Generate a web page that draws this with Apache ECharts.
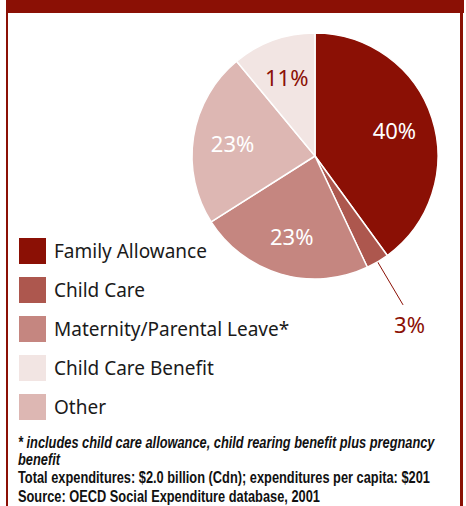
<!DOCTYPE html>
<html>
<head>
<meta charset="utf-8">
<script src="https://cdn.jsdelivr.net/npm/echarts@6/dist/echarts.min.js"></script>
<style>
  html, body { margin: 0; padding: 0; background: #fff; }
  #main { width: 466px; height: 506px; }
</style>
</head>
<body>
<div id="main"></div>
<script>
// slices, clockwise from 12 o'clock
var categories = ['Family Allowance', 'Child Care', 'Maternity/Parental Leave*', 'Other', 'Child Care Benefit'];
var values = [40, 3, 23, 23, 11];
// legend order as printed
var legendOrder = ['Family Allowance', 'Child Care', 'Maternity/Parental Leave*', 'Child Care Benefit', 'Other'];
var footLines = [
  '* includes child care allowance, child rearing benefit plus pregnancy',
  'benefit',
  'Total expenditures: $2.0 billion (Cdn); expenditures per capita: $201',
  'Source: OECD Social Expenditure database, 2001'
];

var palette = ['#8b1005', '#ad574e', '#c58680', '#ddb7b3', '#f2e5e3'];
var labelColors = ['#ffffff', '#8b1005', '#ffffff', '#ffffff', '#8b1005'];
var RED = '#8b1005';
var legendFont = '"Noto Sans", "Open Sans", sans-serif';
var footFont = '"Liberation Sans", Arial, sans-serif';

// footer is a condensed face in the original: squeeze a regular bold face to fit
var ctx = document.createElement('canvas').getContext('2d');
ctx.font = 'bold 17px ' + footFont;
var footScale = 412 / ctx.measureText(footLines[2]).width;

var chart = echarts.init(document.getElementById('main'), null, { renderer: 'svg' });

var mainData = categories.map(function (name, i) {
  var isSmall = values[i] < 5;
  return {
    name: name,
    value: values[i],
    itemStyle: { color: palette[i] },
    label: { show: isSmall },
    labelLine: { show: isSmall }
  };
});

// transparent copy only used to place the inside labels a bit further out
var labelData = categories.map(function (name, i) {
  return {
    name: name,
    value: values[i],
    label: { show: values[i] >= 5, color: labelColors[i] }
  };
});

var footGraphics = footLines.map(function (t, i) {
  var ys = [442, 459, 477, 496];
  return {
    type: 'text',
    x: 18,
    y: ys[i],
    scaleX: footScale,
    style: {
      text: t,
      fill: '#111',
      font: (i < 2 ? 'italic ' : '') + 'bold 17px ' + footFont,
      verticalAlign: 'middle'
    }
  };
});

var option = {
  backgroundColor: '#fff',
  animation: false,
  legend: {
    data: legendOrder,
    orient: 'vertical',
    left: 17,
    top: 236,
    padding: 0,
    icon: 'rect',
    itemWidth: 29,
    itemHeight: 28,
    itemGap: 9,
    selectedMode: false,
    textStyle: { fontSize: 19, lineHeight: 22, color: '#1a1a1a', fontFamily: legendFont, padding: [0, 0, 0, 2] }
  },
  graphic: [
    { type: 'rect', shape: { x: 6, y: 0, width: 458, height: 13 }, style: { fill: RED } },
    { type: 'rect', shape: { x: 6, y: 13, width: 2, height: 493 }, style: { fill: RED } },
    { type: 'rect', shape: { x: 460, y: 13, width: 3, height: 493 }, style: { fill: RED } },
    {
      type: 'text', x: 18, y: 2,
      style: { text: '2001', fill: '#fff', font: 'bold 18px ' + legendFont, verticalAlign: 'bottom' }
    }
  ].concat(footGraphics),
  series: [
    {
      name: 'Expenditures',
      type: 'pie',
      center: [315, 156],
      radius: 123,
      startAngle: 90,
      clockwise: true,
      itemStyle: { borderColor: '#fff', borderWidth: 1.5 },
      label: {
        position: 'outside',
        formatter: '{c}%',
        color: RED,
        fontSize: 22,
        fontFamily: legendFont
      },
      labelLine: {
        length: 50,
        length2: 0,
        lineStyle: { color: RED, width: 1 }
      },
      labelLayout: { dx: -14, dy: 19 },
      emphasis: { disabled: true },
      data: mainData
    },
    {
      name: 'Labels',
      type: 'pie',
      center: [315, 156],
      radius: [38, 123],
      startAngle: 90,
      clockwise: true,
      silent: true,
      itemStyle: { color: 'rgba(0,0,0,0)', borderWidth: 0 },
      label: {
        position: 'inside',
        formatter: '{c}%',
        fontSize: 22,
        fontFamily: legendFont
      },
      labelLine: { show: false },
      emphasis: { disabled: true },
      data: labelData
    }
  ]
};

chart.setOption(option);
</script>
</body>
</html>
